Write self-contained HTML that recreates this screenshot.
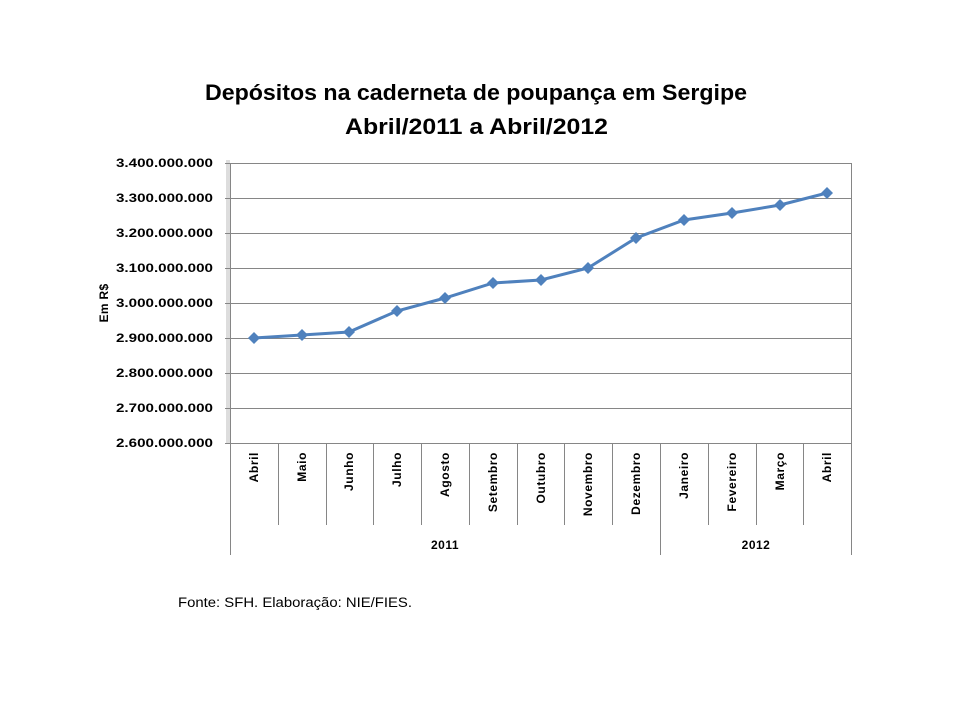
<!DOCTYPE html>
<html><head><meta charset="utf-8"><style>
body{margin:0;background:#fff}
svg text{font-family:"Liberation Sans",sans-serif}
</style></head><body>
<svg width="960" height="720" xmlns="http://www.w3.org/2000/svg">
<text x="205" y="100" font-size="22" font-weight="bold" textLength="542" lengthAdjust="spacingAndGlyphs">Depósitos na caderneta de poupança em Sergipe</text>
<text x="345" y="134" font-size="22" font-weight="bold" textLength="263" lengthAdjust="spacingAndGlyphs">Abril/2011 a Abril/2012</text>
<rect x="226" y="160" width="4" height="283" fill="#ddd"/>
<g stroke="#868686" stroke-width="1">
<line x1="230" y1="163.5" x2="851" y2="163.5"/>
<line x1="230" y1="198.5" x2="851" y2="198.5"/>
<line x1="230" y1="233.5" x2="851" y2="233.5"/>
<line x1="230" y1="268.5" x2="851" y2="268.5"/>
<line x1="230" y1="303.5" x2="851" y2="303.5"/>
<line x1="230" y1="338.5" x2="851" y2="338.5"/>
<line x1="230" y1="373.5" x2="851" y2="373.5"/>
<line x1="230" y1="408.5" x2="851" y2="408.5"/>
<line x1="225" y1="443.5" x2="851" y2="443.5"/>
<line x1="230.5" y1="163" x2="230.5" y2="555"/>
<line x1="851.5" y1="163" x2="851.5" y2="555"/>
<line x1="660.5" y1="443" x2="660.5" y2="555"/>
<line x1="225" y1="163.5" x2="230" y2="163.5"/>
<line x1="225" y1="198.5" x2="230" y2="198.5"/>
<line x1="225" y1="233.5" x2="230" y2="233.5"/>
<line x1="225" y1="268.5" x2="230" y2="268.5"/>
<line x1="225" y1="303.5" x2="230" y2="303.5"/>
<line x1="225" y1="338.5" x2="230" y2="338.5"/>
<line x1="225" y1="373.5" x2="230" y2="373.5"/>
<line x1="225" y1="408.5" x2="230" y2="408.5"/>
</g>
<g stroke="#868686">
<line x1="278.5" y1="443" x2="278.5" y2="525"/><line x1="326.5" y1="443" x2="326.5" y2="525"/>
<line x1="373.5" y1="443" x2="373.5" y2="525"/><line x1="421.5" y1="443" x2="421.5" y2="525"/>
<line x1="469.5" y1="443" x2="469.5" y2="525"/><line x1="517.5" y1="443" x2="517.5" y2="525"/>
<line x1="564.5" y1="443" x2="564.5" y2="525"/><line x1="612.5" y1="443" x2="612.5" y2="525"/>
<line x1="708.5" y1="443" x2="708.5" y2="525"/><line x1="756.5" y1="443" x2="756.5" y2="525"/>
<line x1="803.5" y1="443" x2="803.5" y2="525"/>
</g>
<g font-size="12" font-weight="bold">
<text x="116" y="167" textLength="97" lengthAdjust="spacingAndGlyphs">3.400.000.000</text><text x="116" y="202" textLength="97" lengthAdjust="spacingAndGlyphs">3.300.000.000</text>
<text x="116" y="237" textLength="97" lengthAdjust="spacingAndGlyphs">3.200.000.000</text><text x="116" y="272" textLength="97" lengthAdjust="spacingAndGlyphs">3.100.000.000</text>
<text x="116" y="307" textLength="97" lengthAdjust="spacingAndGlyphs">3.000.000.000</text><text x="116" y="342" textLength="97" lengthAdjust="spacingAndGlyphs">2.900.000.000</text>
<text x="116" y="377" textLength="97" lengthAdjust="spacingAndGlyphs">2.800.000.000</text><text x="116" y="412" textLength="97" lengthAdjust="spacingAndGlyphs">2.700.000.000</text>
<text x="116" y="447" textLength="97" lengthAdjust="spacingAndGlyphs">2.600.000.000</text>
</g>
<text transform="translate(108,303) rotate(-90)" text-anchor="middle" font-size="12" font-weight="bold" letter-spacing="0.3">Em R$</text>
<g font-size="12" font-weight="bold" text-anchor="end" letter-spacing="0.6">
<text transform="translate(258,452) rotate(-90)">Abril</text>
<text transform="translate(306,452) rotate(-90)">Maio</text>
<text transform="translate(353,452) rotate(-90)">Junho</text>
<text transform="translate(401,452) rotate(-90)">Julho</text>
<text transform="translate(449,452) rotate(-90)">Agosto</text>
<text transform="translate(497,452) rotate(-90)">Setembro</text>
<text transform="translate(545,452) rotate(-90)">Outubro</text>
<text transform="translate(592,452) rotate(-90)">Novembro</text>
<text transform="translate(640,452) rotate(-90)">Dezembro</text>
<text transform="translate(688,452) rotate(-90)">Janeiro</text>
<text transform="translate(736,452) rotate(-90)">Fevereiro</text>
<text transform="translate(784,452) rotate(-90)">Março</text>
<text transform="translate(831,452) rotate(-90)">Abril</text>
</g>
<g font-size="12" font-weight="bold" text-anchor="middle" letter-spacing="0.5">
<text x="445" y="549">2011</text><text x="756" y="549">2012</text>
</g>
<polyline fill="none" stroke="#4f81bd" stroke-width="3" points="254,338 302,335 349,332 397,311 445,298 493,283 541,280 588,268 636,238 684,220 732,213 780,205 827,193"/>
<g fill="#4f81bd">
<path d="M254 332l6 6-6 6-6-6z"/><path d="M302 329l6 6-6 6-6-6z"/><path d="M349 326l6 6-6 6-6-6z"/>
<path d="M397 305l6 6-6 6-6-6z"/><path d="M445 292l6 6-6 6-6-6z"/><path d="M493 277l6 6-6 6-6-6z"/>
<path d="M541 274l6 6-6 6-6-6z"/><path d="M588 262l6 6-6 6-6-6z"/><path d="M636 232l6 6-6 6-6-6z"/>
<path d="M684 214l6 6-6 6-6-6z"/><path d="M732 207l6 6-6 6-6-6z"/><path d="M780 199l6 6-6 6-6-6z"/>
<path d="M827 187l6 6-6 6-6-6z"/>
</g>
<text x="178" y="607" font-size="13.5" textLength="234" lengthAdjust="spacingAndGlyphs">Fonte: SFH. Elaboração:  NIE/FIES.</text>
</svg>
</body></html>
